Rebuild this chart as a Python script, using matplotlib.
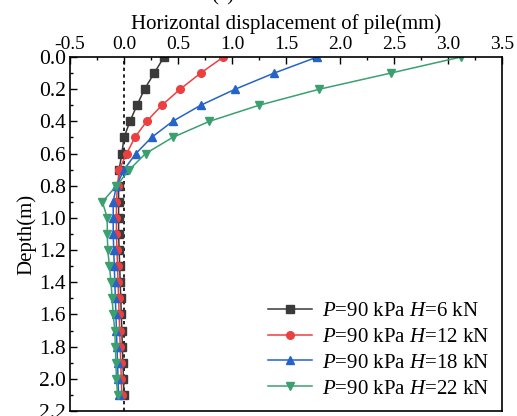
import numpy as np
import matplotlib
matplotlib.use('Agg')
import matplotlib.pyplot as plt
from matplotlib.ticker import MultipleLocator

plt.rcParams['font.family'] = ['Liberation Serif', 'DejaVu Serif']
plt.rcParams['mathtext.fontset'] = 'custom'
plt.rcParams['mathtext.it'] = 'Liberation Serif:italic'
plt.rcParams['mathtext.rm'] = 'Liberation Serif'

# --- data ---
depth = [0.0, 0.1, 0.2, 0.3, 0.4, 0.5, 0.6, 0.7, 0.8, 0.9, 1.0,
         1.1, 1.2, 1.3, 1.4, 1.5, 1.6, 1.7, 1.8, 1.9, 2.0, 2.1]
disp_h6 = [0.37, 0.28, 0.19, 0.12, 0.055, 0.0, -0.02, -0.045, -0.05, -0.05, -0.05,
           -0.05, -0.045, -0.04, -0.035, -0.03, -0.025, -0.02, -0.015, -0.01, -0.005, 0.0]
disp_h12 = [0.92, 0.71, 0.52, 0.35, 0.21, 0.10, 0.025, -0.045, -0.06, -0.07, -0.07,
            -0.07, -0.065, -0.06, -0.055, -0.05, -0.045, -0.04, -0.035, -0.03, -0.025, -0.02]
disp_h18 = [1.79, 1.39, 1.03, 0.71, 0.45, 0.255, 0.11, 0.0, -0.07, -0.1, -0.1,
            -0.1, -0.095, -0.09, -0.085, -0.08, -0.075, -0.07, -0.065, -0.06, -0.055, -0.05]
disp_h22 = [3.12, 2.47, 1.81, 1.25, 0.79, 0.45, 0.20, 0.05, -0.07, -0.2, -0.155,
            -0.155, -0.15, -0.135, -0.12, -0.11, -0.1, -0.085, -0.08, -0.075, -0.07, -0.06]

labels = [r'$P$=90 kPa $H$=6 kN', r'$P$=90 kPa $H$=12 kN',
          r'$P$=90 kPa $H$=18 kN', r'$P$=90 kPa $H$=22 kN']
colors = ['#3a3a3a', '#ec4040', '#2563c8', '#3aa070']
markers = ['s', 'o', '^', 'v']

fig = plt.figure(figsize=(5.17, 4.16), dpi=100)
ax = fig.add_axes([0.1354, 0.012, 0.8356, 0.851])

for d, lab, c, m in zip([disp_h6, disp_h12, disp_h18, disp_h22], labels, colors, markers):
    ax.plot(d, depth, color=c, marker=m, markersize=5.5, linewidth=1.1, label=lab)

ax.axvline(0, color='black', linestyle=(0, (2, 2)), linewidth=1.2, zorder=0)

ax.set_xlim(-0.5, 3.5)
ax.set_ylim(2.2, 0.0)
ax.xaxis.set_ticks_position('top')
ax.xaxis.set_label_position('top')
ax.xaxis.set_major_locator(MultipleLocator(0.5))
ax.xaxis.set_minor_locator(MultipleLocator(0.25))
ax.yaxis.set_major_locator(MultipleLocator(0.2))
ax.yaxis.set_minor_locator(MultipleLocator(0.1))
ax.xaxis.set_major_formatter(plt.FuncFormatter(lambda v, p: f'{v:.1f}'))
ax.yaxis.set_major_formatter(plt.FuncFormatter(lambda v, p: f'{v:.1f}'))
ax.tick_params(which='both', direction='in', width=1)
ax.tick_params(which='major', length=5)
ax.tick_params(which='minor', length=2.5)
ax.tick_params(axis='x', labelsize=14, pad=3)
ax.tick_params(axis='y', labelsize=15.5, pad=3)
for s in ax.spines.values():
    s.set_linewidth(1.2)

ax.set_xlabel('Horizontal displacement of pile(mm)', fontsize=15, labelpad=5)
ax.set_ylabel('Depth(m)', fontsize=15, labelpad=2)

ax.legend(loc='lower right', frameon=False, fontsize=15, handlelength=2.1,
          labelspacing=0.3, borderaxespad=0.2, handletextpad=0.5)

fig.text(0.43, 1.0 - 5 / 416, '(a)', fontsize=15, ha='center', va='bottom')

fig.savefig('out.png', dpi=100)
